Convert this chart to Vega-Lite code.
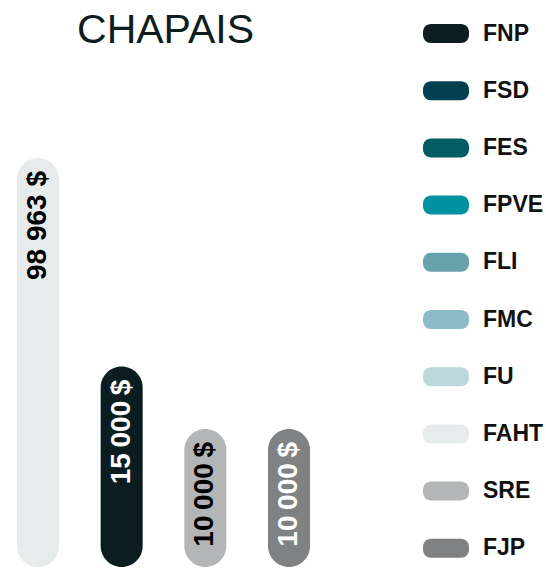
{
  "$schema": "https://vega.github.io/schema/vega-lite/v6.json",
  "padding": {"top": 10, "left": 0, "right": 0, "bottom": 0},
  "background": "white",
  "config": {"view": {"stroke": null}},
  "data": {"values": [
    {"categorie": "FAHT", "montant": 98963, "libelle": "98 963 $"},
    {"categorie": "FNP", "montant": 15000, "libelle": "15\u2009000\u2009$"},
    {"categorie": "SRE", "montant": 10000, "libelle": "10\u2009000\u2009$"},
    {"categorie": "FJP", "montant": 10000, "libelle": "10\u2009000\u2009$"}
  ]},
  "vconcat": [
    {
      "width": 327,
      "height": 507,
      "title": {"text": "CHAPAIS", "anchor": "middle", "frame": "group", "baseline": "alphabetic", "offset": -24, "fontSize": 41, "font": "Liberation Sans", "fontWeight": "normal", "color": "#0e1e1f", "dx": 2},
      "encoding": {
        "x": {"field": "categorie", "type": "nominal", "sort": ["FAHT", "FNP", "SRE", "FJP"], "scale": {"paddingInner": 0.498, "paddingOuter": 0.203}, "axis": null},
        "y": {"field": "montant", "type": "quantitative", "scale": {"type": "pow", "exponent": -0.3, "domain": [4712, 432782], "zero": false, "nice": false}, "axis": null}
      },
      "layer": [
        {
          "mark": {"type": "bar", "cornerRadius": 21},
          "encoding": {
            "y2": {"datum": 4712},
            "color": {
              "field": "categorie",
              "type": "nominal",
              "scale": {
                "domain": ["FNP", "FSD", "FES", "FPVE", "FLI", "FMC", "FU", "FAHT", "SRE", "FJP"],
                "range": ["#0b1d20", "#033f4f", "#035b65", "#0092a0", "#67a3ad", "#8bbcc8", "#bcd8dc", "#e8ebec", "#b3b5b6", "#808182"]
              },
              "legend": {
                "title": null,
                "orient": "none",
                "legendX": 423,
                "legendY": -49.5,
                "symbolType": "M -0.652 -0.413 L 0.652 -0.413 A 0.348 0.348 0 0 1 1 -0.065 L 1 0.065 A 0.348 0.348 0 0 1 0.652 0.413 L -0.652 0.413 A 0.348 0.348 0 0 1 -1 0.065 L -1 -0.065 A 0.348 0.348 0 0 1 -0.652 -0.413 Z",
                "symbolSize": 2116,
                "symbolStrokeWidth": 0,
                "symbolOpacity": 1,
                "labelFont": "Liberation Sans",
                "labelFontWeight": "bold",
                "labelFontSize": 23,
                "labelColor": "#111111",
                "labelOffset": 14,
                "rowPadding": 22.2,
                "padding": 0,
                "labelLimit": 200
              }
            }
          }
        },
        {
          "mark": {"type": "text", "angle": 270, "align": "right", "baseline": "middle", "dx": -13, "font": "Liberation Sans", "fontWeight": "bold", "fontSize": 28},
          "encoding": {
            "text": {"field": "libelle"},
            "color": {"condition": {"test": "datum.categorie === 'FNP' || datum.categorie === 'FJP'", "value": "white"}, "value": "black"}
          }
        }
      ]
    }
  ]
}
